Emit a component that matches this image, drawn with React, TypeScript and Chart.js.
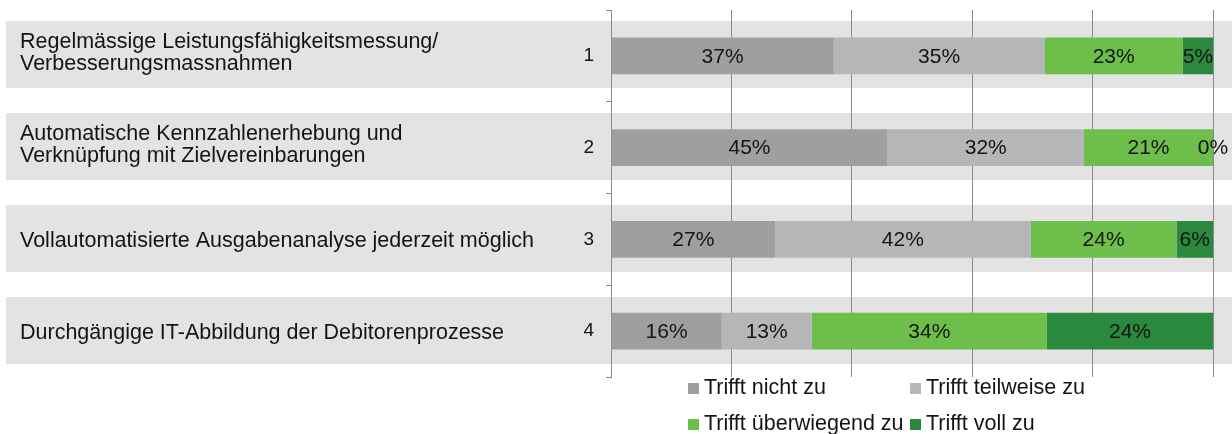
import React, { useEffect, useRef } from "react";
import { Chart, registerables } from "chart.js";

Chart.register(...registerables);

// ---------- data ----------
const categories = ["1", "2", "3", "4"];
const descriptions: string[][] = [
  ["Regelmässige Leistungsfähigkeitsmessung/", "Verbesserungsmassnahmen"],
  ["Automatische Kennzahlenerhebung und", "Verknüpfung mit Zielvereinbarungen"],
  ["Vollautomatisierte Ausgabenanalyse jederzeit möglich"],
  ["Durchgängige IT-Abbildung der Debitorenprozesse"],
];
const seriesLabels = [
  "Trifft nicht zu",
  "Trifft teilweise zu",
  "Trifft überwiegend zu",
  "Trifft voll zu",
];
const trifftNichtZu = [37, 45, 27, 16];
const trifftTeilweiseZu = [35, 32, 42, 13];
const trifftUeberwiegendZu = [23, 21, 24, 34];
const trifftVollZu = [5, 0, 6, 24];
const xMin = 0;
const xMax = 100;
const xStep = 20;

// ---------- style ----------
const FONT = "'Liberation Sans', Arial, Helvetica, sans-serif";
const TEXT = "#141414";
const GRID = "#8a8a8a";
const BAND = "#e3e3e3";
const colors = ["#9e9fa1", "#b5b6b8", "#6dbe4b", "#2a893d"];

const seriesValues = [trifftNichtZu, trifftTeilweiseZu, trifftUeberwiegendZu, trifftVollZu];
const rowTotals = categories.map((_, i) =>
  seriesValues.reduce((s, arr) => s + arr[i], 0)
);

const bandPlugin = {
  id: "bands",
  beforeDraw(chart: any) {
    const { ctx } = chart;
    const y = chart.scales.y;
    ctx.save();
    ctx.fillStyle = BAND;
    categories.forEach((_, i) => {
      const c = y.getPixelForValue(i);
      ctx.fillRect(6, Math.round(c - 34.5), chart.width - 6, 67);
    });
    ctx.restore();
  },
  afterDraw(chart: any) {
    const { ctx } = chart;
    const y = chart.scales.y;
    ctx.save();
    ctx.fillStyle = TEXT;
    ctx.font = `21.5px ${FONT}`;
    ctx.textAlign = "left";
    ctx.textBaseline = "alphabetic";
    descriptions.forEach((lines, i) => {
      const c = y.getPixelForValue(i);
      if (lines.length === 1) {
        ctx.fillText(lines[0], 20, c + 8);
      } else {
        ctx.fillText(lines[0], 20, c - 8);
        ctx.fillText(lines[1], 20, c + 14.5);
      }
    });

    // legend (two aligned columns)
    const area = chart.chartArea;
    const colX = [area.left + 77, area.left + 299];
    const rowY = [area.bottom + 11.5, area.bottom + 47.3];
    ctx.font = `21.5px ${FONT}`;
    ctx.textBaseline = "middle";
    seriesLabels.forEach((lab, k) => {
      const cx = colX[k % 2];
      const cy = rowY[Math.floor(k / 2)];
      ctx.fillStyle = colors[k];
      ctx.fillRect(cx, Math.round(cy - 5.5), 11, 11);
      ctx.fillStyle = TEXT;
      ctx.fillText(lab, cx + 16, cy);
    });
    ctx.restore();
  },
};

const valueLabelPlugin = {
  id: "valueLabels",
  afterDatasetsDraw(chart: any) {
    const { ctx } = chart;
    ctx.save();
    ctx.font = `21px ${FONT}`;
    ctx.fillStyle = TEXT;
    ctx.textAlign = "center";
    ctx.textBaseline = "middle";
    chart.data.datasets.forEach((ds: any, d: number) => {
      const meta = chart.getDatasetMeta(d);
      meta.data.forEach((bar: any, i: number) => {
        const x = (bar.x + bar.base) / 2;
        ctx.fillText(`${seriesValues[d][i]}%`, x, bar.y + 1);
      });
    });
    ctx.restore();
  },
};

export default function App() {
  const ref = useRef<HTMLCanvasElement | null>(null);

  useEffect(() => {
    if (!ref.current) return;
    const chart = new Chart(ref.current, {
      type: "bar",
      data: {
        labels: categories,
        datasets: seriesValues.map((vals, k) => ({
          label: seriesLabels[k],
          data: vals.map((v, i) => (v / rowTotals[i]) * 100),
          backgroundColor: colors[k],
          borderWidth: 0,
          barPercentage: 0.4,
          categoryPercentage: 1,
        })),
      },
      options: {
        indexAxis: "y",
        responsive: false,
        animation: false,
        devicePixelRatio: 1,
        layout: { padding: { top: 10, right: 19, bottom: 57, left: 0 } },
        plugins: {
          legend: { display: false },
          tooltip: { enabled: false },
          title: { display: false },
        },
        scales: {
          x: {
            stacked: true,
            min: xMin,
            max: xMax,
            ticks: { display: false, stepSize: xStep },
            grid: { color: GRID, lineWidth: 1, drawTicks: false },
            border: { display: false },
          },
          y: {
            stacked: true,
            grid: {
              offset: true,
              drawOnChartArea: false,
              drawTicks: true,
              tickLength: 5,
              color: GRID,
            },
            border: { display: true, color: GRID, width: 1 },
            ticks: {
              padding: 12,
              color: TEXT,
              font: { family: FONT, size: 19 },
            },
            afterFit: (s: any) => {
              s.width = 611;
              s.paddingTop = 0;
              s.paddingBottom = 0;
            },
          },
        },
      } as any,
      plugins: [bandPlugin, valueLabelPlugin],
    });
    return () => chart.destroy();
  }, []);

  return (
    <div style={{ position: "absolute", left: 0, top: 0, width: 1232, height: 434 }}>
      <canvas ref={ref} width={1232} height={434} />
    </div>
  );
}
